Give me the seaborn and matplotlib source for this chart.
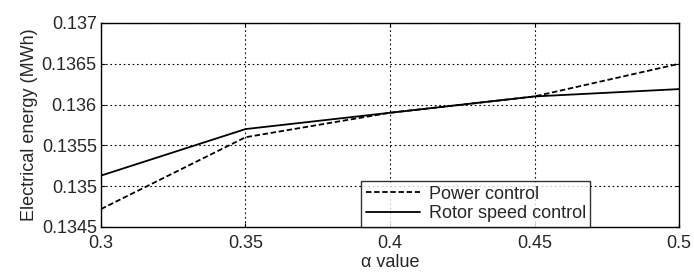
import matplotlib
matplotlib.use("Agg")
import matplotlib.pyplot as plt
import numpy as np
import pandas as pd
import seaborn as sns

alpha = [0.3, 0.35, 0.4, 0.45, 0.5]
power_control = [0.13472, 0.13560, 0.13590, 0.13610, 0.13650]
rotor_speed_control = [0.13513, 0.13570, 0.13590, 0.13610, 0.13619]

sns.set_style("white")
plt.rcParams["font.family"] = ["Liberation Sans", "DejaVu Sans"]
FS = 13

df = pd.DataFrame(
    {
        "alpha": alpha * 2,
        "energy": power_control + rotor_speed_control,
        "Method": ["Power control"] * len(alpha) + ["Rotor speed control"] * len(alpha),
    }
)

fig = plt.figure(figsize=(6.94, 2.72), dpi=100)
ax = fig.add_axes([101 / 694, 1 - 227 / 272, (679 - 101) / 694, (227 - 23) / 272])

sns.lineplot(
    data=df,
    x="alpha",
    y="energy",
    hue="Method",
    style="Method",
    palette=["black", "black"],
    dashes={"Power control": (3, 1.5), "Rotor speed control": ""},
    linewidth=1.3,
    ax=ax,
)

ax.set_xlim(0.3, 0.5)
ax.set_ylim(0.1345, 0.137)
ax.set_xticks(alpha)
ax.set_xticklabels(["0.3", "0.35", "0.4", "0.45", "0.5"])
yt = [0.1345, 0.135, 0.1355, 0.136, 0.1365, 0.137]
ax.set_yticks(yt)
ax.set_yticklabels(["0.1345", "0.135", "0.1355", "0.136", "0.1365", "0.137"])
ax.tick_params(axis="both", labelsize=FS, direction="in", length=3, width=0.8,
               color="black", top=True, right=True, bottom=True, left=True)
ax.tick_params(axis="x", pad=6)
ax.tick_params(axis="y", pad=3)
ax.grid(True, color="black", linestyle=(0, (1.5, 2.5)), linewidth=0.8)
for s in ax.spines.values():
    s.set_color("black")
    s.set_linewidth(1.0)
ax.set_xlabel("α value", fontsize=FS, labelpad=1)
ax.set_ylabel("Electrical energy (MWh)", fontsize=FS, labelpad=3)

leg = ax.legend(
    loc="lower left",
    bbox_to_anchor=((361 - 101) / 578, 0.0),
    fontsize=FS,
    frameon=True,
    fancybox=False,
    edgecolor="black",
    handlelength=3.0,
    borderpad=0.25,
    labelspacing=0.15,
    handletextpad=0.5,
    borderaxespad=0.0,
)
leg.get_frame().set_linewidth(1.0)

fig.savefig("out.png", dpi=100)
